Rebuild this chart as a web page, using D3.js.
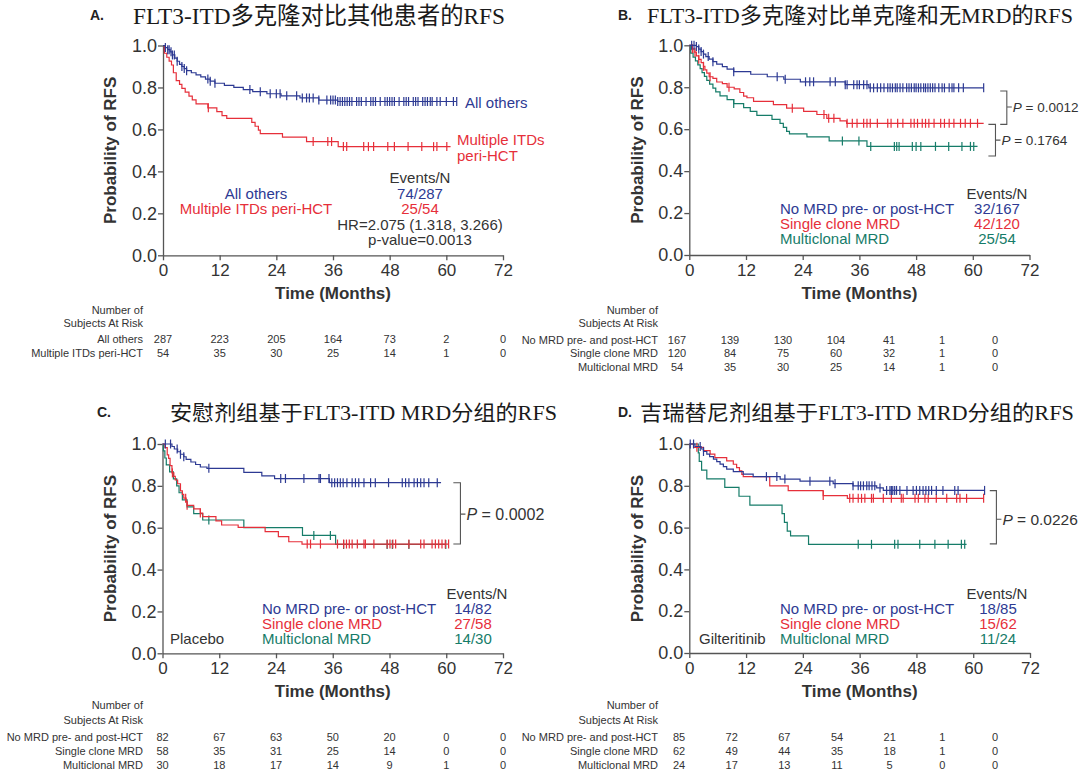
<!DOCTYPE html>
<html><head><meta charset="utf-8">
<script src="https://cdn.jsdelivr.net/npm/d3@7"></script>
<style>body{margin:0;background:#fff}</style>
</head><body>
<script>
// ---------------- DATA ----------------
const timeTicks = [0, 12, 24, 36, 48, 60, 72];
const probTicks = [0, 0.2, 0.4, 0.6, 0.8, 1.0];

// Panel A
const A_othersSteps = [[0,1],[0.5,0.99],[1,0.98],[1.5,0.97],[2,0.955],[2.5,0.94],[3,0.925],[3.5,0.91],[4,0.9],[4.5,0.89],[5,0.88],[6,0.87],[7,0.86],[8,0.85],[9,0.84],[10,0.83],[11,0.82],[13,0.81],[15,0.8],[17,0.79],[19,0.78],[22,0.77],[25,0.76],[29,0.75],[33,0.74],[37,0.733],[62.2,0.733]];
const A_othersCensor = [0.5,1,1.3,1.7,2,2.4,3,4,4.5,5,9.5,10,11,18.4,20.6,22.7,24,24.8,26.2,28.3,29.5,30.4,31,31.8,33,34.7,35.5,36,36.5,37,37.5,38,38.5,39,39.5,40,41,41.5,42,43,44,44.5,45,46,47,47.5,48,48.5,49,50,51,51.5,52,53,53.5,54,55,55.5,56,56.6,57,58,58.7,60,61.5,62.2];
const A_multiSteps = [[0,1],[0.3,0.963],[0.8,0.944],[1.3,0.926],[1.8,0.907],[2.2,0.87],[2.8,0.833],[3.5,0.815],[4,0.796],[4.7,0.778],[5.5,0.759],[6.2,0.741],[7,0.722],[9.5,0.703],[11.4,0.685],[12.5,0.666],[13.5,0.653],[18.8,0.634],[19.5,0.615],[20.2,0.597],[20.6,0.58],[25.3,0.563],[30.4,0.542],[37.1,0.518],[60.9,0.518]];
const A_multiCensor = [9.6,31.8,34.9,35.7,38.2,38.9,42.5,43.5,44.6,47.6,49,51.9,54.8,57.3,58,60.1];
const A_riskOthers = [287,223,205,164,73,2,0];
const A_riskMulti = [54,35,30,25,14,1,0];

// Panel B
const B_noSteps = [[0,1],[1.5,0.994],[2,0.982],[2.5,0.97],[3,0.958],[3.5,0.946],[4.2,0.934],[5,0.922],[5.8,0.91],[7,0.898],[8,0.886],[9.4,0.874],[13,0.862],[16.5,0.85],[20,0.838],[23.5,0.826],[33,0.812],[38,0.797],[62.3,0.797]];
const B_noCensor = [0.5,1,1.5,2,2.5,3,4,5,9.4,18.6,20.3,24.6,25.5,26.3,29.8,30.9,33,33.4,34.8,35.5,36,36.9,37.6,38.3,39,39.8,40.5,41.2,42,42.5,43,43.6,44,44.6,45.2,46,46.5,47,47.6,48,48.5,49,49.6,50,50.5,51,51.5,52,52.8,53.5,54,55,55.6,56,57,58,62.3];
const B_singleSteps = [[0,1],[0.5,0.983],[1,0.967],[1.5,0.95],[2,0.933],[2.5,0.917],[3,0.9],[3.3,0.883],[3.7,0.867],[4.2,0.85],[5,0.842],[5.8,0.825],[7,0.817],[8,0.8],[9.5,0.792],[10.7,0.775],[11.5,0.758],[12.2,0.75],[13.6,0.733],[17.8,0.717],[20.6,0.7],[24.2,0.685],[27,0.67],[29.1,0.652],[31.9,0.64],[33.3,0.628],[62.3,0.628]];
const B_singleCensor = [0.65,1.2,2,3,4.4,8.4,21.8,28.5,29.5,30.6,33.4,34.5,35.5,36.9,37.6,38.3,39.8,42,42.7,44.1,45.2,46.9,47.6,48.3,49.3,50,50.7,51.8,53.2,54,55,56,57.4,58.4,59.5,61];
const B_multiSteps = [[0,1],[0.3,0.963],[0.8,0.944],[1.3,0.926],[1.8,0.907],[2.3,0.889],[2.7,0.87],[3.2,0.852],[3.7,0.833],[4.3,0.815],[5,0.796],[5.6,0.778],[6.5,0.759],[8,0.741],[9.4,0.722],[11.5,0.703],[12.9,0.685],[14.3,0.666],[17.5,0.647],[19.2,0.628],[19.9,0.609],[20.6,0.59],[21.2,0.578],[24.9,0.563],[29.6,0.544],[37.6,0.518],[61,0.518]];
const B_multiCensor = [9.4,32.4,35.9,38.4,43.4,43.9,44.4,47.2,48,49,52.1,54.9,57.7,59.5,60.2];
const B_riskNo = [167,139,130,104,41,1,0];
const B_riskSingle = [120,84,75,60,32,1,0];
const B_riskMulti = [54,35,30,25,14,1,0];

// Panel C (placebo)
const C_noSteps = [[0,1],[2,0.988],[2.5,0.976],[3.2,0.963],[3.8,0.951],[4.5,0.939],[5,0.927],[6,0.914],[7,0.902],[8,0.89],[9.4,0.884],[17.2,0.864],[21,0.848],[23.7,0.835],[35.3,0.815],[58.9,0.815]];
const C_noCensor = [0.6,1.7,3.1,3.8,4.5,9.8,25,26,29.9,33.1,33.4,35.2,35.8,36.4,37,37.6,38.2,39,40.1,40.8,41.5,42.6,44,45,47.8,50.7,51.4,52.1,53.2,53.9,54.6,55.3,56.3,58.1];
const C_singleSteps = [[0,1],[0.5,0.983],[1,0.948],[1.3,0.931],[1.6,0.897],[2,0.862],[2.4,0.845],[2.7,0.828],[3.2,0.81],[3.8,0.776],[4.2,0.759],[4.5,0.741],[5,0.724],[5.2,0.707],[6.6,0.69],[8,0.67],[8.5,0.653],[11.3,0.633],[12.5,0.613],[16,0.602],[21.7,0.581],[24.5,0.557],[26.7,0.533],[29.5,0.522],[60.5,0.522]];
const C_singleCensor = [2.1,4.9,5.2,8,30.6,31.3,33.4,37,38.3,38.9,39.5,40.1,41.2,42.6,42.9,44.7,47.5,48.1,48.7,49.3,52.1,54.6,55.3,57,57.7,58.4,59.1,59.8,60.5];
const C_multiSteps = [[0,1],[0.2,0.967],[0.5,0.933],[0.8,0.9],[1.5,0.867],[2.3,0.833],[3,0.8],[3.5,0.767],[4.2,0.733],[5.2,0.7],[6.6,0.667],[8.5,0.637],[17.2,0.6],[29.6,0.563],[36.6,0.52],[59.9,0.52]];
const C_multiCensor = [9.8,32,35.5,38.3,47.5,48.6,52.1,59.9];
const C_riskNo = [82,67,63,50,20,0,0];
const C_riskSingle = [58,35,31,25,14,0,0];
const C_riskMulti = [30,18,17,14,9,1,0];

// Panel D (gilteritinib)
const D_noSteps = [[0,1],[1.2,0.988],[2.5,0.976],[3,0.964],[3.7,0.952],[4.3,0.94],[5.1,0.928],[5.8,0.916],[6.5,0.904],[7.2,0.892],[7.9,0.88],[9.3,0.868],[11.4,0.856],[13.5,0.844],[19.2,0.832],[23.4,0.822],[30.4,0.81],[34.6,0.8],[39.6,0.79],[41,0.778],[62.4,0.778]];
const D_noCensor = [0.2,0.9,2.3,3,16.3,18.5,20.2,25.5,29.7,30.8,34.6,35.7,36.2,36.8,37.5,38,38.6,39.2,40.3,41.7,42.4,42.7,43,43.4,43.8,44.5,46,47.3,48,48.7,49.4,50,50.6,51.2,52.2,53.6,56.1,56.8,62.4];
const D_singleSteps = [[0,1],[0.9,0.984],[3,0.968],[4.4,0.952],[5.4,0.935],[7.9,0.919],[9.3,0.903],[10,0.887],[10.6,0.871],[11.1,0.855],[11.4,0.844],[17,0.8],[20.9,0.777],[28.3,0.753],[33.4,0.74],[62.2,0.74]];
const D_singleCensor = [1.6,28.3,33.9,34.6,35.7,36.4,37.1,38.5,38.9,41,42.7,44.8,45.2,47.7,48.4,49.8,50.5,52.2,54.4,56.5,57.2,58.6,62.2];
const D_multiSteps = [[0,1],[1.9,0.958],[2.1,0.917],[2.6,0.875],[3.7,0.833],[7.5,0.792],[10.5,0.75],[12.8,0.708],[19.6,0.667],[20.1,0.625],[20.7,0.583],[21.4,0.56],[25.2,0.52],[58.6,0.52]];
const D_multiCensor = [35.7,38.5,43.4,44.1,48.7,51.9,54.7,57.5,58.2];
const D_riskNo = [85,72,67,54,21,1,0];
const D_riskSingle = [62,49,44,35,18,1,0];
const D_riskMulti = [24,17,13,11,5,0,0];

// Texts
const titles = ["FLT3-ITD多克隆对比其他患者的RFS", "FLT3-ITD多克隆对比单克隆和无MRD的RFS", "安慰剂组基于FLT3-ITD MRD分组的RFS", "吉瑞替尼剂组基于FLT3-ITD MRD分组的RFS"];
const panelLetters = ["A.", "B.", "C.", "D."];
const groupsMRD = ["No MRD pre- or post-HCT", "Single clone MRD", "Multiclonal MRD"];
const riskLabelsMRD = ["No MRD pre- and post-HCT", "Single clone MRD", "Multiclonal MRD"];
const groupsA = ["All others", "Multiple ITDs peri-HCT"];
const eventsA = ["74/287", "25/54"];
const eventsB = ["32/167", "42/120", "25/54"];
const eventsC = ["14/82", "27/58", "14/30"];
const eventsD = ["18/85", "15/62", "11/24"];

// ---------------- DRAWING ----------------
const BLUE = "#2d3a93", RED = "#e62f3a", GREEN = "#167c69", GRAY = "#333";
const SANS = "'Liberation Sans', Arial, sans-serif";
const svg = d3.select("body").append("svg").attr("width", 1080).attr("height", 770)
  .style("font-family", SANS);

function stepAt(steps, t) {
  const i = d3.bisector(d => d[0]).right(steps, t) - 1;
  return steps[Math.max(0, i)][1];
}

function text(g, x, y, str, opts = {}) {
  return g.append("text").attr("x", x).attr("y", y).attr("dy", "0.35em")
    .attr("text-anchor", opts.anchor || "start")
    .attr("font-size", opts.size || 15)
    .attr("font-weight", opts.weight || "normal")
    .attr("fill", opts.color || GRAY)
    .text(str);
}

function panel(cfg) {
  const g = svg.append("g");
  const x = d3.scaleLinear().domain([0, 72]).range([cfg.x0, cfg.x1]);
  const y = d3.scaleLinear().domain([0, 1]).range([cfg.yBot, cfg.yTop]);

  // title
  text(g, cfg.letterX, cfg.titleY, cfg.letter, {size: 14, weight: "bold", color: "#222"});
  g.append("text").attr("x", cfg.titleX).attr("y", cfg.titleY).attr("dy", "0.36em")
    .attr("font-family", "'Liberation Serif', 'Noto Sans CJK SC', serif")
    .attr("font-size", cfg.titleSize).attr("fill", "#1a1a1a")
    .attr("textLength", cfg.titleLen).attr("lengthAdjust", "spacingAndGlyphs")
    .text(cfg.title);

  // axes
  const gx = g.append("g").attr("transform", `translate(0,${cfg.yBot})`)
    .call(d3.axisBottom(x).tickValues(timeTicks).tickSize(5).tickSizeOuter(0).tickFormat(d3.format("d")));
  gx.selectAll("text").attr("y", 15).attr("dy", "0.35em").attr("font-size", 17).attr("fill", GRAY).attr("font-family", SANS);
  const gy = g.append("g").attr("transform", `translate(${cfg.x0},0)`)
    .call(d3.axisLeft(y).tickValues(probTicks).tickSize(5).tickPadding(1).tickSizeOuter(0).tickFormat(d3.format(".1f")));
  gy.selectAll("text").attr("font-size", 18).attr("fill", GRAY).attr("font-family", SANS);
  [gx, gy].forEach(a => { a.selectAll("path,line").attr("stroke", "#555").attr("stroke-width", 1.3); });

  g.append("text").attr("transform", `translate(${cfg.ylabX},${(cfg.yTop + cfg.yBot) / 2}) rotate(-90)`)
    .attr("text-anchor", "middle").attr("dy", "0.35em").attr("font-size", 17).attr("font-weight", "bold")
    .attr("fill", GRAY).text("Probability of RFS");
  text(g, (cfg.x0 + cfg.x1) / 2, cfg.yBot + 38, "Time (Months)", {anchor: "middle", size: 17, weight: "bold"});

  // curves (drawn in given order)
  const line = d3.line().x(d => x(d[0])).y(d => y(d[1])).curve(d3.curveStepAfter);
  cfg.series.forEach(s => {
    g.append("path").datum(s.steps).attr("d", line).attr("fill", "none")
      .attr("stroke", s.color).attr("stroke-width", 1.2);
    g.append("g").selectAll("line").data(s.censor).join("line")
      .attr("x1", d => x(d)).attr("x2", d => x(d))
      .attr("y1", d => y(stepAt(s.steps, d)) - 4.5).attr("y2", d => y(stepAt(s.steps, d)) + 4.5)
      .attr("stroke", s.color).attr("stroke-width", 1.2);
  });

  // brackets
  (cfg.brackets || []).forEach(b => {
    const xv = x(b.xv), xh = x(b.xh), yt = y(b.top), yb = y(b.bot), ym = y(b.mid);
    g.append("path").attr("d", `M${xh},${yt}H${xv}V${yb}H${xh}M${xv},${ym}h5`)
      .attr("fill", "none").attr("stroke", "#555").attr("stroke-width", 1.1);
    const t = g.append("text").attr("x", xv + 6).attr("y", ym).attr("dy", "0.35em")
      .attr("font-size", b.size).attr("fill", GRAY);
    t.append("tspan").attr("font-style", "italic").text("P");
    t.append("tspan").text(" = " + b.label);
  });

  // risk table
  const cols = cfg.riskCols ? d3.scaleLinear().domain([0, 6]).range(cfg.riskCols) : (i => x(timeTicks[i]));
  text(g, cfg.riskRight, cfg.riskHead[0], "Number of", {anchor: "end", size: 11});
  text(g, cfg.riskRight, cfg.riskHead[1], "Subjects At Risk", {anchor: "end", size: 11});
  cfg.risk.forEach((r, ri) => {
    text(g, cfg.riskRight, cfg.riskRows[ri], r.label, {anchor: "end", size: 11});
    r.values.forEach((v, i) => text(g, cols(i), cfg.riskRows[ri], v, {anchor: "middle", size: 11}));
  });
  return {g, x, y};
}

// Panel A
const pA = panel({
  letter: panelLetters[0], letterX: 90, title: titles[0], titleX: 133, titleY: 15, titleSize: 24, titleLen: 372,
  x0: 163, x1: 503, yTop: 45.5, yBot: 255.3, ylabX: 110,
  series: [{steps: A_multiSteps, censor: A_multiCensor, color: RED},
           {steps: A_othersSteps, censor: A_othersCensor, color: BLUE}],
  riskRight: 143, riskHead: [310, 323.5], riskRows: [339.5, 353.5],
  risk: [{label: groupsA[0], values: A_riskOthers}, {label: groupsA[1], values: A_riskMulti}]
});
text(pA.g, 465, 103, groupsA[0], {color: BLUE});
text(pA.g, 457, 140, "Multiple ITDs", {color: RED});
text(pA.g, 457, 156, "peri-HCT", {color: RED});
text(pA.g, 420, 178, "Events/N", {anchor: "middle"});
text(pA.g, 256, 193.5, groupsA[0], {anchor: "middle", color: BLUE});
text(pA.g, 256, 209, groupsA[1], {anchor: "middle", color: RED});
text(pA.g, 420, 193.5, eventsA[0], {anchor: "middle", color: BLUE});
text(pA.g, 420, 209, eventsA[1], {anchor: "middle", color: RED});
text(pA.g, 420, 224.5, "HR=2.075 (1.318, 3.266)", {anchor: "middle"});
text(pA.g, 420, 240, "p-value=0.0013", {anchor: "middle"});

// Panel B
const pB = panel({
  letter: panelLetters[1], letterX: 618, title: titles[1], titleX: 647, titleY: 15, titleSize: 22, titleLen: 426,
  x0: 689.3, x1: 1029.5, yTop: 45.3, yBot: 255, ylabX: 637,
  series: [{steps: B_multiSteps, censor: B_multiCensor, color: GREEN},
           {steps: B_singleSteps, censor: B_singleCensor, color: RED},
           {steps: B_noSteps, censor: B_noCensor, color: BLUE}],
  brackets: [{xv: 67.2, xh: 65.8, top: 0.782, bot: 0.623, mid: 0.706, label: "0.0012", size: 13.5},
             {xv: 64.8, xh: 63.3, top: 0.623, bot: 0.472, mid: 0.548, label: "0.1764", size: 13.5}],
  riskRight: 658, riskCols: [677, 995], riskHead: [310, 323.5], riskRows: [340, 353.5, 367.5],
  risk: [{label: riskLabelsMRD[0], values: B_riskNo}, {label: riskLabelsMRD[1], values: B_riskSingle}, {label: riskLabelsMRD[2], values: B_riskMulti}]
});
[BLUE, RED, GREEN].forEach((c, i) => {
  text(pB.g, 780, 208.5 + i * 15, groupsMRD[i], {color: c});
  text(pB.g, 997, 208.5 + i * 15, eventsB[i], {anchor: "middle", color: c});
});
text(pB.g, 997, 193.5, "Events/N", {anchor: "middle"});

// Panel C
const pC = panel({
  letter: panelLetters[2], letterX: 97, title: titles[2], titleX: 170, titleY: 412, titleSize: 21, titleLen: 387,
  x0: 162.5, x1: 503, yTop: 444, yBot: 653.3, ylabX: 110,
  series: [{steps: C_multiSteps, censor: C_multiCensor, color: GREEN},
           {steps: C_singleSteps, censor: C_singleCensor, color: RED},
           {steps: C_noSteps, censor: C_noCensor, color: BLUE}],
  brackets: [{xv: 63, xh: 61.5, top: 0.815, bot: 0.522, mid: 0.665, label: "0.0002", size: 16}],
  riskRight: 143, riskHead: [705, 720], riskRows: [737, 751.5, 765.5],
  risk: [{label: riskLabelsMRD[0], values: C_riskNo}, {label: riskLabelsMRD[1], values: C_riskSingle}, {label: riskLabelsMRD[2], values: C_riskMulti}]
});
[BLUE, RED, GREEN].forEach((c, i) => {
  text(pC.g, 262, 608.3 + i * 15, groupsMRD[i], {color: c});
  text(pC.g, 473, 608.3 + i * 15, eventsC[i], {anchor: "middle", color: c});
});
text(pC.g, 477, 593.3, "Events/N", {anchor: "middle"});
text(pC.g, 170, 638.3, "Placebo", {});

// Panel D
const pD = panel({
  letter: panelLetters[3], letterX: 618, title: titles[3], titleX: 640, titleY: 412, titleSize: 21, titleLen: 434,
  x0: 689.3, x1: 1030, yTop: 444, yBot: 653, ylabX: 637,
  series: [{steps: D_multiSteps, censor: D_multiCensor, color: GREEN},
           {steps: D_singleSteps, censor: D_singleCensor, color: RED},
           {steps: D_noSteps, censor: D_noCensor, color: BLUE}],
  brackets: [{xv: 64.9, xh: 63.5, top: 0.777, bot: 0.522, mid: 0.64, label: "0.0226", size: 15.5}],
  riskRight: 658, riskCols: [679, 995], riskHead: [705, 720], riskRows: [737, 751, 765],
  risk: [{label: riskLabelsMRD[0], values: D_riskNo}, {label: riskLabelsMRD[1], values: D_riskSingle}, {label: riskLabelsMRD[2], values: D_riskMulti}]
});
[BLUE, RED, GREEN].forEach((c, i) => {
  text(pD.g, 780, 608.3 + i * 15, groupsMRD[i], {color: c});
  text(pD.g, 998, 608.3 + i * 15, eventsD[i], {anchor: "middle", color: c});
});
text(pD.g, 997, 593.3, "Events/N", {anchor: "middle"});
text(pD.g, 699, 638.3, "Gilteritinib", {});
</script>
</body></html>
